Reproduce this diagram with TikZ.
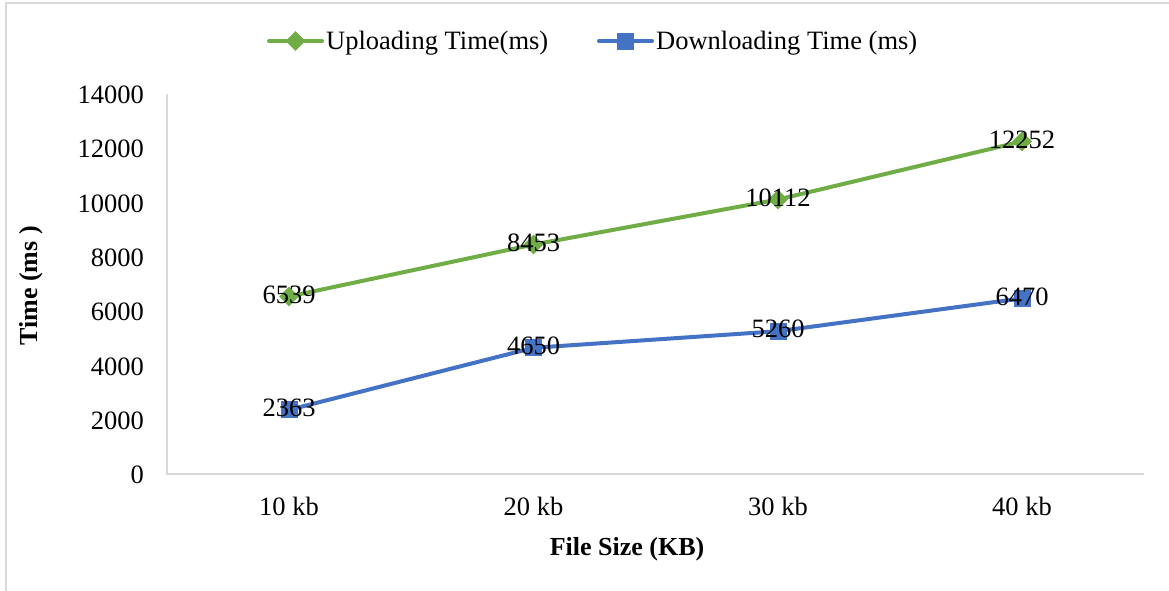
\documentclass[tikz,border=0pt]{standalone}
\usepackage{fontspec}
\setmainfont{Liberation Serif}
\usetikzlibrary{shapes.geometric}
\definecolor{upg}{HTML}{70AD47}
\definecolor{dnb}{HTML}{4472C4}
\definecolor{axg}{HTML}{D9D9D9}
\begin{document}
\begin{tikzpicture}[x=1pt,y=-1pt,
  axisline/.style={draw=axg,line width=1.5pt},
  ticklab/.style={font=\fontsize{26.5}{26.5}\selectfont,anchor=east,inner sep=0pt},
  catlab/.style={font=\fontsize{26.5}{26.5}\selectfont,inner sep=0pt},
  vallab/.style={font=\fontsize{26.5}{26.5}\selectfont,inner sep=0pt},
  titlelab/.style={font=\bfseries\fontsize{26}{26}\selectfont,inner sep=0pt},
  legtext/.style={font=\fontsize{26.5}{26.5}\selectfont,anchor=west,inner sep=0pt},
  upline/.style={draw=upg,line width=4pt,line cap=round,line join=round},
  dnline/.style={draw=dnb,line width=4pt,line cap=round,line join=round},
  upmark/.style={diamond,fill=upg,inner sep=0pt,minimum width=20pt,minimum height=20pt},
  dnmark/.style={rectangle,fill=dnb,inner sep=0pt,minimum width=17pt,minimum height=17pt}]
\useasboundingbox (0,0) rectangle (1169,590);
\begin{scope}
\clip (0,0) rectangle (1169,590);
\draw[draw=axg,line width=1.5pt] (6,3) rectangle (1180,600);
\end{scope}
% axes
\coordinate (o) at (167,474);
\coordinate (ytop) at (167,94);
\coordinate (xend) at (1144,474);
\draw[axisline] (ytop) -- (o) -- (xend);
% y tick labels
\foreach \v in {0,2000,...,14000}{
  \node[ticklab] (t\v) at (144,{475-\v*0.027143}) {\v};
}
% category labels
\node[catlab] (c1) at (289,506) {10 kb};
\node[catlab] (c2) at (533.5,506) {20 kb};
\node[catlab] (c3) at (778,506) {30 kb};
\node[catlab] (c4) at (1022,506) {40 kb};
% titles
\node[titlelab,rotate=90] (ytitle) at (31,286) {Time (ms )};
\node[titlelab] (xtitle) at (627,549) {File Size (KB)};
% data coordinates
\coordinate (u1) at (289,{474-6539*0.027143});
\coordinate (u2) at (533.5,{474-8453*0.027143});
\coordinate (u3) at (778,{474-10112*0.027143});
\coordinate (u4) at (1022,{474-12252*0.027143});
\coordinate (d1) at (289,{474-2363*0.027143});
\coordinate (d2) at (533.5,{474-4650*0.027143});
\coordinate (d3) at (778,{474-5260*0.027143});
\coordinate (d4) at (1022,{474-6470*0.027143});
\draw[upline] (u1) -- (u2) -- (u3) -- (u4);
\draw[dnline] (d1) -- (d2) -- (d3) -- (d4);
\foreach \i in {1,...,4}{
  \node[upmark] (um\i) at (u\i) {};
  \node[dnmark] (dm\i) at (d\i) {};
}
\node[vallab] (ul1) at ([yshift=2pt]u1) {6539};
\node[vallab] (ul2) at ([yshift=2pt]u2) {8453};
\node[vallab] (ul3) at ([yshift=2pt]u3) {10112};
\node[vallab] (ul4) at ([yshift=2pt]u4) {12252};
\node[vallab] (dl1) at ([yshift=2pt]d1) {2363};
\node[vallab] (dl2) at ([yshift=2pt]d2) {4650};
\node[vallab] (dl3) at ([yshift=2pt]d3) {5260};
\node[vallab] (dl4) at ([yshift=2pt]d4) {6470};
% legend
\coordinate (la1) at (269,41);
\coordinate (la2) at (322,41);
\draw[upline] (la1) -- (la2);
\node[upmark] (lum) at (295.5,41) {};
\node[legtext] (lut) at (326,43) {Uploading Time(ms)};
\coordinate (lb1) at (599,41);
\coordinate (lb2) at (652,41);
\draw[dnline] (lb1) -- (lb2);
\node[dnmark] (ldm) at (625.5,41) {};
\node[legtext] (ldt) at (656,43) {Downloading Time (ms)};
\end{tikzpicture}
\end{document}
